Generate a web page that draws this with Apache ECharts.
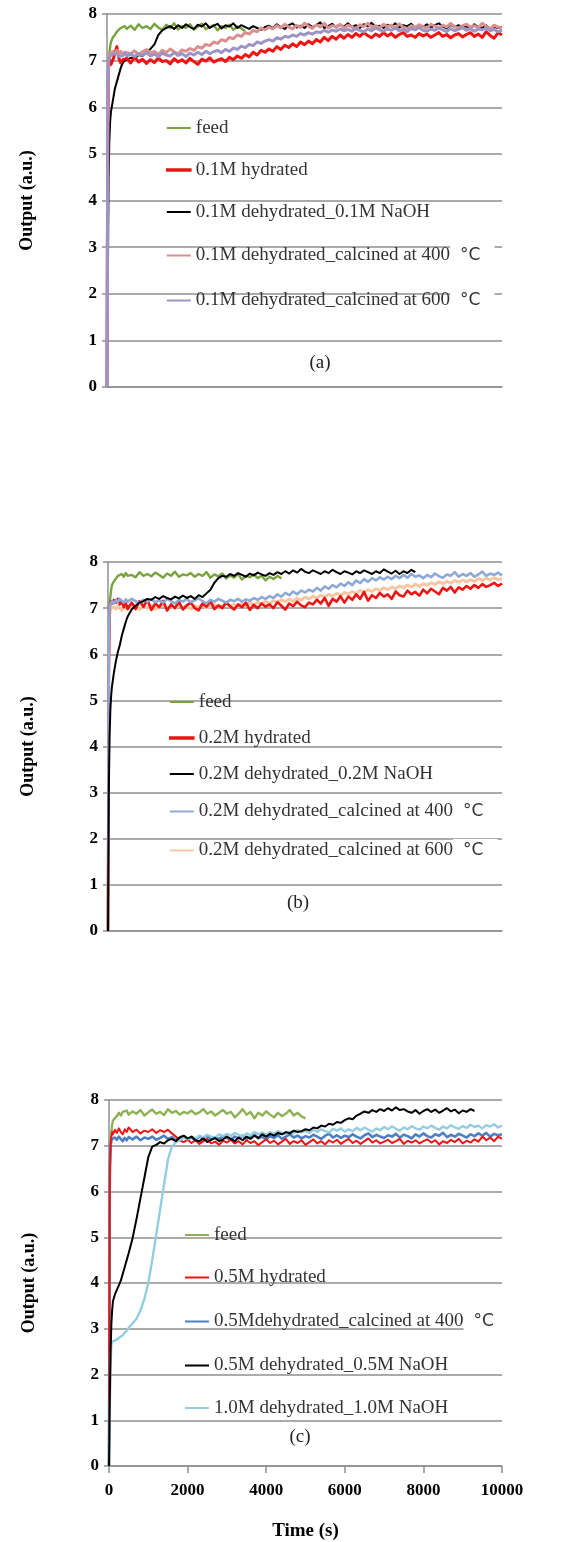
<!DOCTYPE html>
<html><head><meta charset="utf-8">
<script src="https://cdn.jsdelivr.net/npm/echarts@6/dist/echarts.min.js"></script>
<style>html,body{margin:0;padding:0;background:#fff}#c{width:568px;height:1542px}</style>
</head><body><div id="c"></div>
<script>
// sample times (s)
const times = [0,20,40,60,80,100,150,200,250,300,350,400,450,500,
600,700,800,900,1000,
1100,1200,1300,1400,1500,1600,1700,1800,1900,2000,
2100,2200,2300,2400,2500,2600,2700,2800,2900,3000,
3100,3200,3300,3400,3500,3600,3700,3800,3900,4000,
4100,4200,4300,4400,4500,4600,4700,4800,4900,5000,
5100,5200,5300,5400,5500,5600,5700,5800,5900,6000,
6100,6200,6300,6400,6500,6600,6700,6800,6900,7000,
7100,7200,7300,7400,7500,7600,7700,7800,7900,8000,
8100,8200,8300,8400,8500,8600,8700,8800,8900,9000,
9100,9200,9300,9400,9500,9600,9700,9800,9900,10000];

const xTicks = [0,2000,4000,6000,8000,10000];
const yTicks = [0,1,2,3,4,5,6,7,8];

// ---------- panel (a) ----------
const feedA = [0,6.5,7.0,7.15,7.3,7.4,7.5,7.55,7.62,7.6,7.7,7.66,7.74,7.68,
7.75,7.66,7.78,7.7,7.74,
7.68,7.79,7.71,7.66,7.77,7.7,7.8,7.67,7.74,7.7,
7.78,7.66,7.73,7.79,7.68,7.72,7.76,7.65,7.74,7.7,
7.77,7.66,7.73,7.69,7.63];
const hydA = [0,5.5,6.85,6.95,7.0,6.92,7.02,7.15,7.3,7.05,6.95,7.02,6.98,7.05,
6.95,7.08,6.97,7.03,6.94,
7.02,6.96,7.06,6.98,7.0,6.93,7.04,6.97,7.02,6.95,
7.05,6.98,6.92,7.03,6.99,7.06,6.97,7.01,7.04,6.98,
7.07,7.02,7.1,7.05,7.13,7.08,7.18,7.12,7.22,7.18,
7.25,7.2,7.3,7.24,7.33,7.28,7.36,7.3,7.4,7.34,
7.42,7.36,7.45,7.4,7.5,7.43,7.52,7.46,7.55,7.48,
7.56,7.5,7.58,7.52,7.6,7.54,7.49,7.57,7.52,7.6,
7.53,7.58,7.5,7.56,7.6,7.52,7.55,7.5,7.58,7.53,
7.57,7.5,7.55,7.6,7.52,7.56,7.49,7.55,7.58,7.51,
7.56,7.6,7.52,7.57,7.5,7.62,7.54,7.48,7.6,7.55];
const naohA = [0,2.0,4.5,5.3,5.7,5.9,6.15,6.4,6.55,6.7,6.85,6.95,7.0,7.02,
7.06,7.05,7.12,7.1,7.18,
7.25,7.35,7.55,7.65,7.7,7.74,7.68,7.76,7.7,7.78,
7.72,7.68,7.77,7.73,7.8,7.7,7.75,7.79,7.69,7.76,
7.73,7.8,7.7,7.76,7.72,7.68,7.74,7.7,7.66,7.72,
7.75,7.7,7.78,7.72,7.68,7.76,7.8,7.71,7.75,7.7,
7.78,7.72,7.76,7.82,7.7,7.74,7.79,7.71,7.77,7.73,
7.8,7.72,7.76,7.7,7.78,7.74,7.81,7.72,7.75,7.7,
7.77,7.73,7.8,7.71,7.76,7.74,7.79,7.7,7.75,7.72,
7.78,7.71,7.76,7.8,7.73,7.69,7.77,7.72,7.76,7.7,
7.74,7.68,7.78,7.72,7.7,7.76,7.68,7.73,7.7,7.72];
const c400A = [0,6.0,7.0,7.1,7.15,7.12,7.2,7.14,7.22,7.15,7.2,7.12,7.18,7.22,
7.15,7.21,7.13,7.19,7.24,
7.16,7.2,7.13,7.22,7.17,7.25,7.19,7.14,7.23,7.2,
7.26,7.22,7.3,7.27,7.35,7.32,7.4,7.37,7.45,7.42,
7.5,7.47,7.55,7.52,7.6,7.57,7.65,7.62,7.7,7.66,
7.72,7.68,7.75,7.7,7.78,7.72,7.68,7.76,7.71,7.8,
7.74,7.69,7.77,7.72,7.8,7.7,7.75,7.73,7.78,7.7,
7.76,7.72,7.68,7.77,7.73,7.8,7.71,7.75,7.7,7.78,
7.73,7.76,7.7,7.79,7.72,7.68,7.75,7.71,7.77,7.73,
7.7,7.78,7.74,7.7,7.76,7.72,7.8,7.73,7.69,7.75,
7.78,7.72,7.75,7.7,7.8,7.74,7.68,7.76,7.72,7.7];
const c600A = [0,6.3,7.0,7.05,7.1,7.08,7.14,7.1,7.16,7.09,7.13,7.11,7.16,7.1,
7.14,7.09,7.15,7.11,7.17,
7.1,7.14,7.08,7.16,7.12,7.1,7.17,7.11,7.15,7.09,
7.16,7.12,7.18,7.13,7.2,7.15,7.19,7.22,7.17,7.24,
7.2,7.27,7.24,7.31,7.28,7.35,7.32,7.4,7.37,7.42,
7.45,7.42,7.49,7.46,7.52,7.5,7.55,7.52,7.58,7.55,
7.6,7.57,7.62,7.6,7.65,7.61,7.66,7.63,7.68,7.64,
7.67,7.63,7.69,7.65,7.62,7.68,7.64,7.7,7.66,7.63,
7.68,7.65,7.7,7.64,7.67,7.62,7.69,7.66,7.71,7.65,
7.63,7.68,7.65,7.7,7.66,7.62,7.69,7.64,7.67,7.71,
7.65,7.69,7.63,7.68,7.66,7.7,7.64,7.67,7.62,7.66];

// ---------- panel (b) ----------
const feedB = [0,6.6,7.1,7.25,7.4,7.5,7.58,7.62,7.7,7.66,7.74,7.68,7.76,7.7,
7.72,7.67,7.78,7.7,7.74,
7.69,7.77,7.72,7.66,7.75,7.7,7.79,7.68,7.73,7.71,
7.76,7.68,7.74,7.7,7.78,7.66,7.73,7.69,7.75,7.64,
7.71,7.66,7.74,7.62,7.7,7.67,7.73,7.65,7.7,7.6,
7.68,7.63,7.7,7.64];
const hydB = [0,5.5,7.0,7.1,7.15,7.1,7.18,7.12,7.2,7.08,7.15,7.02,7.1,6.98,
7.12,6.98,7.15,7.03,7.18,
6.96,7.1,7.02,7.16,6.95,7.08,7.0,7.14,6.97,7.06,
7.12,7.0,6.95,7.1,7.03,7.15,6.98,7.06,7.0,7.12,
7.04,6.97,7.08,7.02,7.12,6.96,7.07,7.0,7.1,7.03,
7.08,7.0,7.13,7.05,6.97,7.1,7.04,7.14,7.06,7.02,
7.12,7.08,7.18,7.1,7.22,7.05,7.2,7.14,7.26,7.12,
7.25,7.18,7.3,7.2,7.35,7.16,7.28,7.22,7.33,7.25,
7.3,7.2,7.36,7.28,7.25,7.38,7.3,7.35,7.27,7.4,
7.32,7.42,7.36,7.3,7.44,7.38,7.46,7.34,7.45,7.4,
7.48,7.42,7.5,7.44,7.52,7.46,7.5,7.55,7.48,7.53];
const naohB = [0,3.0,4.2,4.8,5.1,5.3,5.6,5.85,6.05,6.2,6.4,6.55,6.7,6.82,
6.97,7.05,7.12,7.15,7.2,
7.18,7.24,7.2,7.26,7.22,7.19,7.25,7.21,7.27,7.22,
7.26,7.2,7.28,7.24,7.32,7.4,7.55,7.65,7.7,7.68,
7.74,7.7,7.76,7.72,7.68,7.75,7.71,7.77,7.73,7.7,
7.76,7.72,7.78,7.74,7.8,7.75,7.82,7.77,7.85,7.79,
7.76,7.82,7.78,7.74,7.8,7.76,7.83,7.78,7.74,7.8,
7.77,7.73,7.8,7.76,7.82,7.78,7.74,7.8,7.76,7.84,
7.79,7.75,7.81,7.74,7.8,7.76,7.83,7.78];
const c400B = [0,6.2,7.0,7.08,7.12,7.15,7.1,7.18,7.13,7.2,7.16,7.12,7.19,7.14,
7.2,7.15,7.11,7.18,7.14,
7.19,7.13,7.17,7.12,7.2,7.15,7.1,7.18,7.14,7.2,
7.13,7.17,7.21,7.15,7.1,7.18,7.14,7.2,7.16,7.12,
7.18,7.15,7.2,7.14,7.19,7.16,7.22,7.18,7.24,7.2,
7.26,7.22,7.3,7.25,7.33,7.28,7.36,7.3,7.38,7.34,
7.4,7.36,7.44,7.38,7.47,7.42,7.5,7.45,7.53,7.48,
7.56,7.5,7.6,7.54,7.63,7.57,7.65,7.6,7.67,7.62,
7.68,7.63,7.7,7.65,7.72,7.66,7.74,7.68,7.71,7.65,
7.72,7.67,7.75,7.69,7.66,7.73,7.7,7.78,7.68,7.74,
7.7,7.76,7.68,7.73,7.79,7.7,7.75,7.72,7.77,7.71];
const c600B = [0,5.8,6.85,6.95,7.0,6.96,7.03,6.98,7.05,7.0,6.95,7.04,6.99,7.06,
7.0,7.05,6.97,7.03,7.0,
7.06,6.98,7.02,7.07,6.99,7.04,7.0,7.06,7.01,7.04,
6.98,7.05,7.02,7.07,7.0,7.04,7.08,7.02,7.06,7.1,
7.04,7.08,7.03,7.1,7.06,7.12,7.07,7.13,7.09,7.15,
7.1,7.16,7.12,7.18,7.14,7.2,7.15,7.22,7.17,7.24,
7.2,7.26,7.22,7.28,7.24,7.3,7.26,7.32,7.28,7.34,
7.3,7.36,7.32,7.38,7.34,7.4,7.36,7.42,7.38,7.44,
7.4,7.46,7.42,7.48,7.44,7.5,7.46,7.52,7.47,7.53,
7.5,7.55,7.51,7.57,7.53,7.58,7.54,7.6,7.56,7.61,
7.57,7.62,7.58,7.64,7.6,7.65,7.61,7.66,7.62,7.64];

// ---------- panel (c) ----------
const feedC = [0,6.6,7.1,7.3,7.45,7.55,7.6,7.65,7.72,7.66,7.74,7.7,7.77,7.68,
7.75,7.7,7.78,7.66,7.73,
7.79,7.7,7.74,7.67,7.8,7.72,7.76,7.68,7.74,7.71,
7.77,7.69,7.73,7.8,7.7,7.75,7.66,7.72,7.78,7.7,
7.74,7.62,7.7,7.8,7.68,7.74,7.6,7.72,7.66,7.75,
7.68,7.62,7.72,7.65,7.7,7.78,7.66,7.72,7.64,7.6];
const hydC = [0,6.0,7.05,7.2,7.3,7.25,7.35,7.28,7.38,7.3,7.25,7.36,7.3,7.4,
7.3,7.35,7.27,7.33,7.3,
7.36,7.28,7.34,7.3,7.35,7.27,7.2,7.12,7.08,7.13,
7.06,7.12,7.04,7.1,7.15,7.05,7.09,7.02,7.11,7.07,
7.13,7.05,7.1,7.03,7.12,7.06,7.1,7.01,7.08,7.14,
7.06,7.11,7.03,7.09,7.15,7.04,7.1,7.06,7.12,7.02,
7.08,7.14,7.05,7.1,7.03,7.12,7.07,7.13,7.04,7.1,
7.15,7.06,7.11,7.04,7.1,7.16,7.07,7.12,7.05,7.09,
7.13,7.06,7.1,7.15,7.04,7.11,7.07,7.12,7.05,7.1,
7.14,7.07,7.12,7.03,7.1,7.06,7.13,7.08,7.15,7.05,
7.11,7.07,7.14,7.09,7.2,7.12,7.18,7.1,7.2,7.15];
const c400C = [0,6.5,7.0,7.1,7.15,7.12,7.18,7.13,7.2,7.15,7.1,7.17,7.12,7.19,
7.14,7.2,7.12,7.18,7.15,
7.2,7.13,7.17,7.22,7.15,7.19,7.12,7.18,7.21,7.14,
7.18,7.13,7.2,7.16,7.22,7.14,7.19,7.15,7.21,7.17,
7.13,7.2,7.16,7.22,7.15,7.19,7.24,7.16,7.2,7.14,
7.21,7.17,7.23,7.15,7.2,7.25,7.18,7.22,7.16,7.21,
7.18,7.24,7.2,7.15,7.22,7.26,7.18,7.23,7.17,7.22,
7.19,7.25,7.2,7.16,7.23,7.27,7.19,7.24,7.2,7.17,
7.23,7.2,7.26,7.18,7.24,7.21,7.16,7.25,7.2,7.27,
7.21,7.18,7.25,7.22,7.28,7.19,7.24,7.2,7.26,7.22,
7.18,7.25,7.21,7.27,7.22,7.28,7.2,7.26,7.23,7.25];
const naohC = [0,1.5,2.5,3.1,3.4,3.6,3.75,3.85,3.95,4.05,4.2,4.35,4.5,4.65,
4.98,5.4,5.85,6.3,6.75,
6.98,7.02,7.08,7.05,7.12,7.15,7.1,7.18,7.22,7.16,
7.2,7.12,7.1,7.16,7.08,7.13,7.17,7.1,7.14,7.2,
7.15,7.1,7.18,7.12,7.2,7.15,7.22,7.17,7.25,7.2,
7.26,7.22,7.28,7.25,7.3,7.27,7.33,7.3,7.32,7.36,
7.34,7.4,7.38,7.44,7.42,7.48,7.46,7.52,7.5,7.56,
7.6,7.58,7.66,7.7,7.75,7.72,7.78,7.74,7.8,7.76,
7.82,7.77,7.84,7.78,7.8,7.75,7.72,7.78,7.7,7.76,
7.8,7.74,7.79,7.72,7.77,7.82,7.75,7.79,7.71,7.77,
7.74,7.8,7.76];
const naoh1C = [0,1.2,2.2,2.65,2.72,2.75,2.74,2.77,2.8,2.82,2.86,2.9,2.96,3.02,
3.12,3.22,3.4,3.65,4.0,
4.5,5.05,5.6,6.15,6.7,6.98,7.08,7.12,7.18,7.14,
7.2,7.16,7.22,7.18,7.24,7.2,7.17,7.25,7.21,7.26,
7.22,7.28,7.24,7.2,7.27,7.23,7.3,7.25,7.29,7.24,
7.3,7.26,7.32,7.28,7.25,7.31,7.27,7.34,7.29,7.33,
7.28,7.35,7.3,7.36,7.32,7.29,7.37,7.33,7.38,7.31,
7.36,7.32,7.39,7.34,7.4,7.35,7.31,7.38,7.34,7.41,
7.36,7.42,7.37,7.33,7.4,7.36,7.43,7.38,7.35,7.42,
7.38,7.44,7.39,7.35,7.42,7.38,7.45,7.4,7.37,7.43,
7.39,7.46,7.41,7.44,7.38,7.45,7.42,7.47,7.4,7.44];

// ---------- chart ----------
const SERIF = '"Liberation Serif","Times New Roman",serif';
const GRID = '#8f8f8f';
const grids = [
  {left:107, top:14, width:395, height:373},
  {left:108, top:562, width:394, height:369},
  {left:109, top:1100, width:393, height:368}
];

function mk(name, vals, color, width, idx, z) {
  return {type:'line', name:name, xAxisIndex:idx, yAxisIndex:idx,
    data: vals.map((v,i)=>[times[i], v]),
    symbol:'none', showSymbol:false, z:z, animation:false, silent:true,
    lineStyle:{color:color, width:width, join:'round'}, itemStyle:{color:color}};
}

const series = [
  mk('feed#a', feedA, '#79a33e', 2.4, 0, 2),
  mk('0.1M dehydrated_0.1M NaOH', naohA, '#000000', 2, 0, 3),
  mk('0.1M hydrated', hydA, '#f21212', 3, 0, 4),
  mk('0.1M dehydrated_calcined at 400  °C', c400A, '#d9918f', 3, 0, 5),
  mk('0.1M dehydrated_calcined at 600  °C', c600A, '#9d94c6', 3, 0, 6),

  mk('feed#b', feedB, '#79a33e', 2.4, 1, 2),
  mk('0.2M dehydrated_calcined at 600  °C', c600B, '#f9c6a4', 3, 1, 3),
  mk('0.2M hydrated', hydB, '#ee1414', 2.6, 1, 4),
  mk('0.2M dehydrated_calcined at 400  °C', c400B, '#8fa9d6', 2.6, 1, 5),
  mk('0.2M dehydrated_0.2M NaOH', naohB, '#000000', 2, 1, 6),

  mk('feed#c', feedC, '#8db154', 2.4, 2, 2),
  mk('0.5Mdehydrated_calcined at 400  °C', c400C, '#4d7fc4', 2.6, 2, 3),
  mk('0.5M hydrated', hydC, '#ee1414', 2, 2, 4),
  mk('1.0M dehydrated_1.0M NaOH', naoh1C, '#92cde0', 2.4, 2, 5),
  mk('0.5M dehydrated_0.5M NaOH', naohC, '#000000', 2, 2, 6)
];

const legendNames = [
  ['feed#a','0.1M hydrated','0.1M dehydrated_0.1M NaOH','0.1M dehydrated_calcined at 400  °C','0.1M dehydrated_calcined at 600  °C'],
  ['feed#b','0.2M hydrated','0.2M dehydrated_0.2M NaOH','0.2M dehydrated_calcined at 400  °C','0.2M dehydrated_calcined at 600  °C'],
  ['feed#c','0.5M hydrated','0.5Mdehydrated_calcined at 400  °C','0.5M dehydrated_0.5M NaOH','1.0M dehydrated_1.0M NaOH']
];
const legendPos = [{left:166, top:118, gap:22}, {left:169, top:692, gap:16}, {left:185, top:1225, gap:22.5}];
const thick = {'0.1M hydrated':1, '0.2M hydrated':1};

function fmt(name) {
  name = name.replace(/#.*$/, '');
  const m = name.match(/^(.*?)\s+°C$/);
  if (m) return '{t|' + m[1] + '}{c|°C}';
  return name;
}

const legends = legendNames.map((names, k) => ({
  orient:'vertical', left:legendPos[k].left, top:legendPos[k].top, padding:0,
  itemWidth:24, itemHeight:2, itemGap:legendPos[k].gap, icon:'rect', selectedMode:false,
  data: names.map(n => thick[n] ? {name:n, itemStyle:{borderWidth:1.6, borderColor:'#ee1414'}} : {name:n}),
  formatter: fmt,
  textStyle:{fontFamily:SERIF, fontSize:19, color:'#333', lineHeight:20,
    rich:{
      t:{fontFamily:SERIF, fontSize:19, color:'#333', lineHeight:20},
      c:{fontFamily:'"DejaVu Sans",sans-serif', fontSize:17, color:'#333', backgroundColor:'#fff', padding:[3,14,3,10], lineHeight:20}
    }}
}));

const axisTxt = {fontFamily:SERIF, fontWeight:'bold', fontSize:17, color:'#000'};

const option = {
  backgroundColor:'#fff',
  animation:false,
  grid: grids,
  legend: legends,
  xAxis: grids.map((g,i)=>({
    gridIndex:i, type:'value', min:xTicks[0], max:xTicks[xTicks.length-1], interval:xTicks[1]-xTicks[0],
    axisLine:{show:true, lineStyle:{color:GRID, width:1.5}},
    axisTick:{show:i===2, length:7, lineStyle:{color:GRID, width:1.5}},
    axisLabel:Object.assign({show:i===2, margin:16, formatter:(v)=>String(v)}, axisTxt),
    splitLine:{show:false},
    name: i===2 ? 'Time (s)' : '', nameLocation:'middle', nameGap:56,
    nameTextStyle:{fontFamily:SERIF, fontWeight:'bold', fontSize:19, color:'#000'}
  })),
  yAxis: grids.map((g,i)=>({
    gridIndex:i, type:'value', min:yTicks[0], max:yTicks[yTicks.length-1], interval:yTicks[1]-yTicks[0],
    axisLine:{show:true, lineStyle:{color:GRID, width:1.5}},
    axisTick:{show:true, length:5, lineStyle:{color:GRID, width:1.5}},
    axisLabel:Object.assign({margin:10}, axisTxt),
    splitLine:{show:true, lineStyle:{color:GRID, width:1.5}},
    name:'Output (a.u.)', nameLocation:'middle', nameRotate:90, nameGap:71,
    nameTextStyle:{fontFamily:SERIF, fontWeight:'bold', fontSize:18, color:'#000'}
  })),
  graphic: [
    {type:'text', x:320, y:363, z:100, style:{text:'(a)', font:'19px "Liberation Serif"', fill:'#222', align:'center', verticalAlign:'middle', textAlign:'center', textVerticalAlign:'middle'}},
    {type:'text', x:298, y:903, z:100, style:{text:'(b)', font:'19px "Liberation Serif"', fill:'#222', align:'center', verticalAlign:'middle', textAlign:'center', textVerticalAlign:'middle'}},
    {type:'text', x:300, y:1437, z:100, style:{text:'(c)', font:'19px "Liberation Serif"', fill:'#222', align:'center', verticalAlign:'middle', textAlign:'center', textVerticalAlign:'middle'}}
  ],
  series: series
};

const chart = echarts.init(document.getElementById('c'), null, {renderer:'canvas'});
chart.setOption(option);
</script></body></html>
